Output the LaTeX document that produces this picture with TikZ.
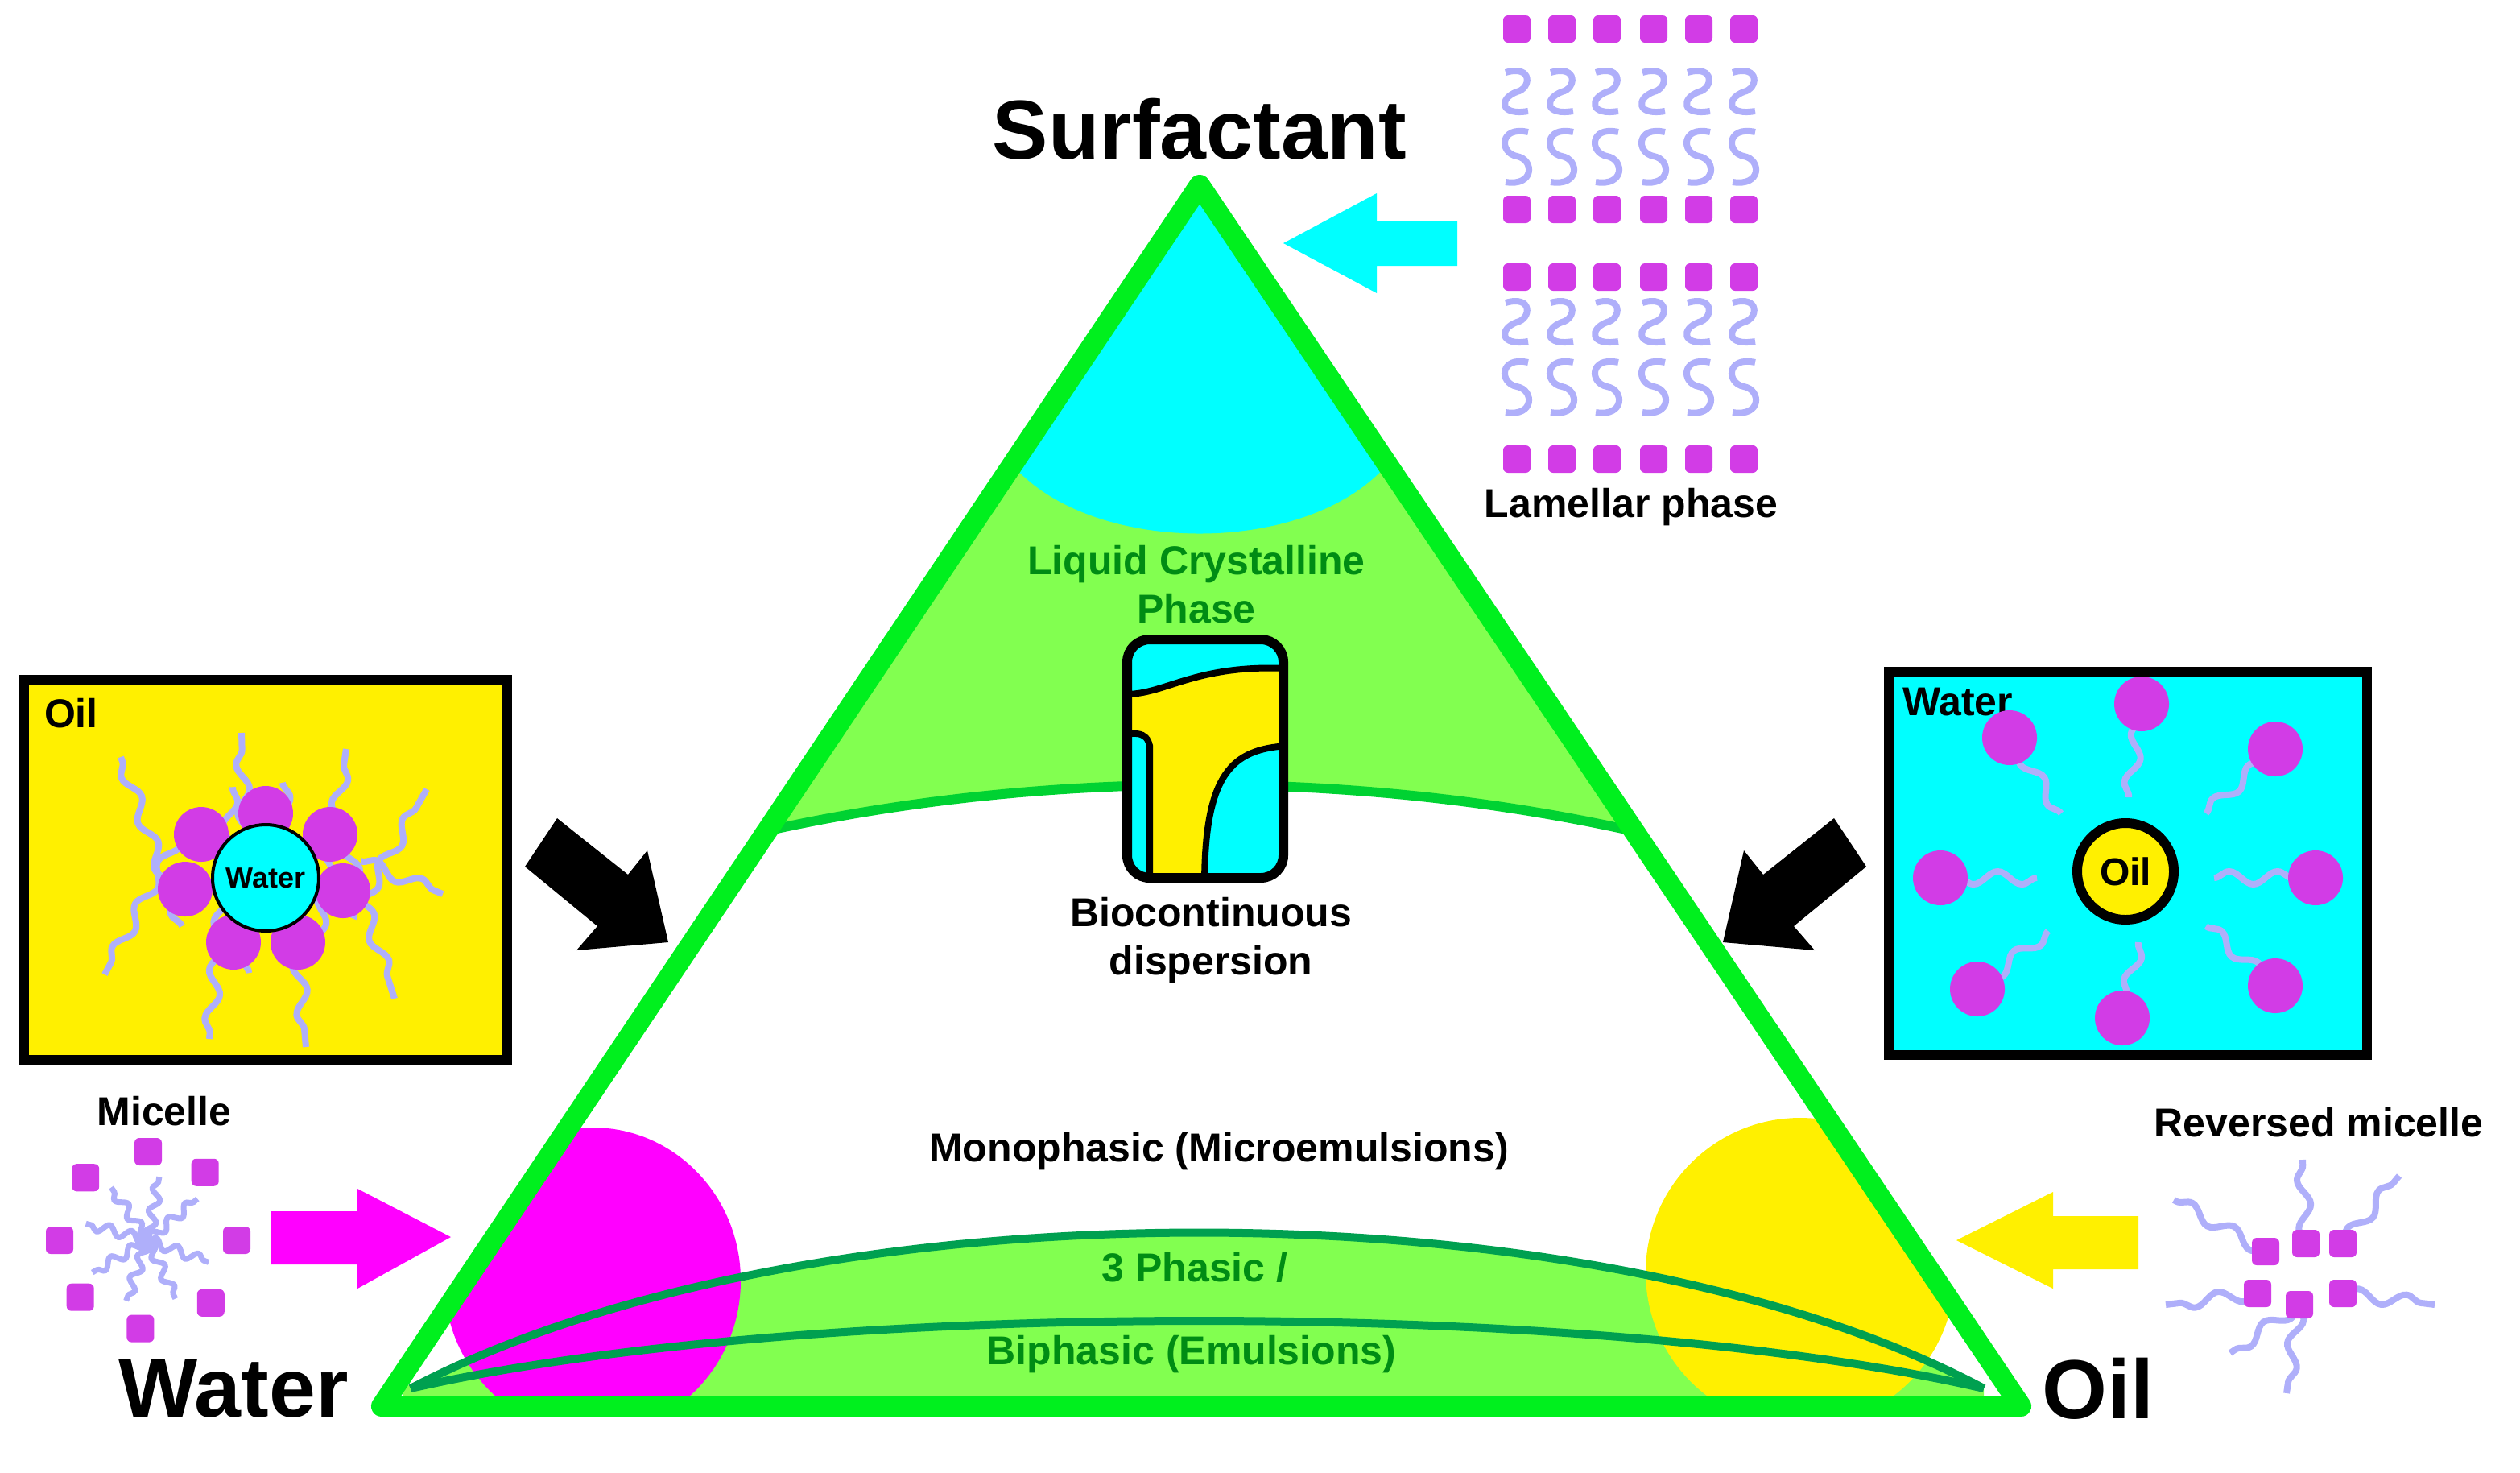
\documentclass[tikz,border=0pt]{standalone}
\usepackage{fontspec}
\setmainfont{Liberation Sans}
\usetikzlibrary{decorations.pathmorphing,calc}
\definecolor{tri}{RGB}{0,240,30}
\definecolor{lgreen}{RGB}{130,255,80}
\definecolor{dgreen}{RGB}{0,160,80}
\definecolor{mgreen}{RGB}{0,210,50}
\definecolor{tgreen}{RGB}{0,140,20}
\definecolor{cy}{RGB}{0,255,255}
\definecolor{yel}{RGB}{255,240,0}
\definecolor{mag}{RGB}{255,0,255}
\definecolor{head}{RGB}{210,60,230}
\definecolor{tail}{RGB}{175,175,250}
\tikzset{
  lbl/.style={font=\bfseries\fontsize{25}{30}\selectfont, align=center},
  big/.style={font=\bfseries\fontsize{52}{56}\selectfont},
  tl/.style={draw=tail, line width=4pt, decorate, decoration={snake, amplitude=4pt, segment length=30pt}},
  hd/.style={circle, fill=head, minimum size=34pt, inner sep=0pt},
  sq/.style={rounded corners=3pt, fill=head, minimum size=17pt, inner sep=0pt},
}
\begin{document}
\begin{tikzpicture}[x=1pt,y=-1pt]
\useasboundingbox (0,0) rectangle (1565,914);
% ---- triangle interior ----
\begin{scope}
\clip (745,115) -- (237,873) -- (1255,873) -- cycle;
\fill[lgreen] (300,60) -- (1200,60) -- (1010,515) .. controls (840,478) and (650,478) .. (480,515) -- cycle;
\fill[cy] (560,60) -- (560,290) -- (630,290) .. controls (680,345) and (810,345) .. (860,290) -- (930,290) -- (930,60) -- cycle;
\draw[mgreen, line width=6pt] (480,515) .. controls (650,478) and (840,478) .. (1010,515);
\fill[lgreen] (250,862) .. controls (500,733) and (990,733) .. (1232,862) -- (1232,890) -- (250,890) -- cycle;
\end{scope}
\begin{scope}
\clip (745,115) -- (237,873) -- (1255,873) -- cycle;
\clip (200,600) rectangle (460,900);
\fill[mag] (368,795) ellipse [x radius=92, y radius=95];
\end{scope}
\begin{scope}
\clip (745,115) -- (237,873) -- (1255,873) -- cycle;
\clip (1022,600) rectangle (1300,900);
\fill[yel] (1118,790) ellipse [x radius=96, y radius=96];
\end{scope}
\draw[dgreen, line width=5pt] (255,862) .. controls (500,733) and (990,733) .. (1232,862);
\draw[dgreen, line width=5pt] (255,862) .. controls (500,806) and (990,806) .. (1232,862);
\draw[tri, line width=13pt, line join=round] (745,115) -- (237,873) -- (1255,873) -- cycle;
% labels in triangle
\node[lbl, text=tgreen] (lc) at (743,363) {Liquid Crystalline\\Phase};
\node[lbl] (bd) at (752,584) {Biocontinuous\\dispersion};
\node[lbl] (mono) at (757,715) {Monophasic (Microemulsions)};
\node[lbl, text=tgreen] (tp) at (742,787) {3 Phasic /};
\node[lbl, text=tgreen] (bp) at (740,841) {Biphasic (Emulsions)};
\node[big] (surf) at (745,80) {Surfactant};
\node[big] (wat) at (145,862) {Water};
\node[big] (oil) at (1303,862) {Oil};
% ---- biocontinuous icon ----
\begin{scope}
\clip[rounded corners=14pt] (700,397) rectangle (797,545);
\fill[cy] (700,397) rectangle (797,545);
\filldraw[fill=yel, draw=black, line width=4pt] (690,430) .. controls (720,436) and (735,412) .. (800,415) -- (800,463) .. controls (765,465) and (748,480) .. (748,550) -- (714,550) -- (714,463) .. controls (712,454) and (705,454) .. (690,458) -- cycle;
\end{scope}
\draw[line width=6pt, rounded corners=14pt] (700,397) rectangle (797,545);
% ---- lamellar ----
\foreach \x in {942,970,998,1027,1055,1083}{
  \foreach \y in {18,130,172,285} \node[sq] at (\x,\y) {};
  \foreach \y in {57,200} \draw[tail, line width=4pt] (\x-7,\y-12) .. controls (\x+10,\y-17) and (\x+9,\y-2) .. (\x,\y) .. controls (\x-11,\y+4) and (\x-11,\y+15) .. (\x+7,\y+12);
  \foreach \y in {97,240} \draw[tail, line width=4pt] (\x+7,\y-15) .. controls (\x-11,\y-19) and (\x-11,\y-2) .. (\x,\y) .. controls (\x+11,\y+2) and (\x+11,\y+19) .. (\x-7,\y+16);
}
\node[lbl] (lam) at (1013,315) {Lamellar phase};
\fill[cy] (905,137) -- (855,137) -- (855,120) -- (797,151) -- (855,182) -- (855,165) -- (905,165) -- cycle;
% ---- left box ----
\filldraw[fill=yel, draw=black, line width=6pt] (15,422) rectangle (315,658);
\node[lbl, anchor=west] (boil) at (24,443) {Oil};
\foreach \a/\ex/\ey in {150/75/470, 100/150/455, 60/215/465, 25/265/490, -10/275/555, -45/245/620, -80/190/650, -110/130/645, -150/65/605}
  \draw[tl] ($(165,545)+(\a:60)$) -- (\ex,\ey);
\foreach \x/\y in {125/518,165/505,205/518,115/552,213/553,145/585,185/585} \node[hd] at (\x,\y) {};
\node[circle, fill=cy, draw=black, line width=2pt, minimum size=66pt, inner sep=0pt, font=\bfseries\fontsize{18}{18}\selectfont] (lw) at (165,545) {Water};
% ---- right box ----
\filldraw[fill=cy, draw=black, line width=6pt] (1173,417) rectangle (1470,655);
\node[lbl, anchor=west] (bw) at (1178,436) {Water};
\foreach \px/\py/\qx/\qy in {1330/437/1322/495, 1413/465/1370/505, 1438/545/1375/545, 1413/612/1370/575, 1318/632/1328/585, 1228/614/1272/578, 1205/545/1265/545, 1248/458/1280/505} {
  \draw[tl] (\qx,\qy) -- (\px,\py);
  \node[hd] at (\px,\py) {};
}
\node[circle, fill=yel, draw=black, line width=6pt, minimum size=60pt, inner sep=0pt, font=\bfseries\fontsize{24}{24}\selectfont] (ro) at (1320,541) {Oil};
% ---- black arrows ----
\fill[black] (326,538) -- (346,508) -- (390,543) -- (402,528) -- (415,585) -- (358,590) -- (371,575) -- cycle;
\fill[black] (1159,538) -- (1139,508) -- (1095,543) -- (1083,528) -- (1070,585) -- (1127,590) -- (1114,575) -- cycle;
% ---- micelle ----
\node[lbl] (mic) at (102,690) {Micelle};
\foreach \a in {20,65,110,150,195,235,280,320}
  \draw[tail, line width=3.5pt, decorate, decoration={snake, amplitude=3pt, segment length=14pt}] (92,770) -- ++(\a:40);
\foreach \a in {0,45,95,140,180,225,270,310}
  \node[sq] at ($(92,770)+(\a:55)$) {};
\fill[mag] (168,752) -- (222,752) -- (222,738) -- (280,768) -- (222,800) -- (222,785) -- (168,785) -- cycle;
% ---- reversed micelle ----
\node[lbl] (rm) at (1440,697) {Reversed micelle};
\foreach \px/\py/\qx/\qy in {1407/777/1350/745, 1432/772/1430/720, 1455/772/1490/730, 1402/803/1345/810, 1455/803/1512/810, 1428/810/1420/865, 1428/810/1385/840}
  \draw[tl] (\px,\py) -- (\qx,\qy);
\foreach \x/\y in {1407/777,1432/772,1455/772,1402/803,1428/810,1455/803} \node[sq] at (\x,\y) {};
\fill[yel] (1328,755) -- (1275,755) -- (1275,740) -- (1215,770) -- (1275,800) -- (1275,788) -- (1328,788) -- cycle;
\end{tikzpicture}
\end{document}
